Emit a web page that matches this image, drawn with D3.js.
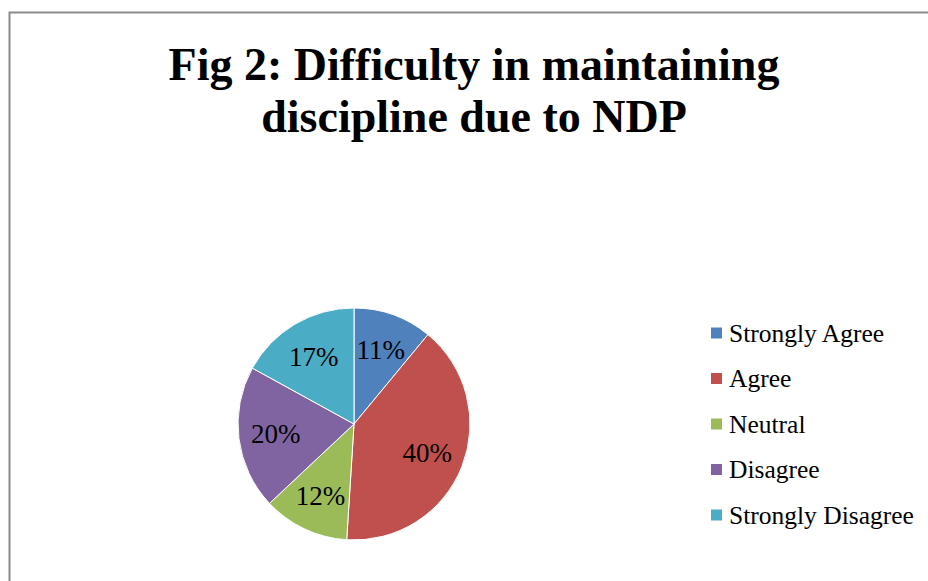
<!DOCTYPE html>
<html>
<head>
<meta charset="utf-8">
<script src="https://cdn.jsdelivr.net/npm/d3@7"></script>
<style>
  html, body { margin: 0; padding: 0; background: #fff; }
  svg { display: block; }
  text { font-family: "Liberation Serif", "Times New Roman", serif; }
</style>
</head>
<body>
<svg id="chart" width="928" height="581"></svg>
<script>
'use strict';

// Chart data
const categories = ['Strongly Agree', 'Agree', 'Neutral', 'Disagree', 'Strongly Disagree'];
const shares = [11, 40, 12, 20, 17];
const sliceColors = ['#4F81BD', '#C0504D', '#9BBB59', '#8064A2', '#4BACC6'];
const titleLines = ['Fig 2: Difficulty in maintaining', 'discipline due to NDP'];

const svg = d3.select('#chart');

// Chart area border (runs off the right and bottom edges)
svg.append('rect')
   .attr('x', 9.5)
   .attr('y', 12.5)
   .attr('width', 940)
   .attr('height', 600)
   .attr('fill', 'none')
   .attr('stroke', '#8c8c8c')
   .attr('stroke-width', 2);

// Title
svg.append('g')
   .selectAll('text')
   .data(titleLines)
   .enter()
   .append('text')
     .attr('x', 474)
     .attr('y', (d, i) => 80 + i * 52)
     .attr('text-anchor', 'middle')
     .attr('font-size', 46)
     .attr('font-weight', 'bold')
     .attr('fill', '#000')
     .text(d => d);

// Pie
const radius = 116;
const pie = d3.pie().sort(null).value(d => d);
const arc = d3.arc().innerRadius(0).outerRadius(radius);
const labelArc = d3.arc().innerRadius(radius * 0.68).outerRadius(radius * 0.68);

const pieGroup = svg.append('g')
   .attr('transform', 'translate(354, 424)');

const slices = pieGroup.selectAll('g')
   .data(pie(shares))
   .enter()
   .append('g');

slices.append('path')
      .attr('d', arc)
      .attr('fill', (d, i) => sliceColors[i])
      .attr('stroke', '#fff')
      .attr('stroke-width', 1);

slices.append('text')
      .attr('transform', d => `translate(${labelArc.centroid(d)})`)
      .attr('text-anchor', 'middle')
      .attr('dy', '0.35em')
      .attr('font-size', 27)
      .attr('fill', '#000')
      .text(d => `${d.data}%`);

// Legend
const legendY = d3.scalePoint()
   .domain(categories)
   .range([333, 515]);

const legend = svg.append('g')
   .selectAll('g')
   .data(categories)
   .enter()
   .append('g')
     .attr('transform', d => `translate(711, ${legendY(d)})`);

legend.append('rect')
      .attr('x', 0)
      .attr('y', -5.5)
      .attr('width', 11)
      .attr('height', 11)
      .attr('fill', (d, i) => sliceColors[i]);

legend.append('text')
      .attr('x', 18)
      .attr('dy', '0.35em')
      .attr('font-size', 25.5)
      .attr('fill', '#000')
      .text(d => d);
</script>
</body>
</html>
